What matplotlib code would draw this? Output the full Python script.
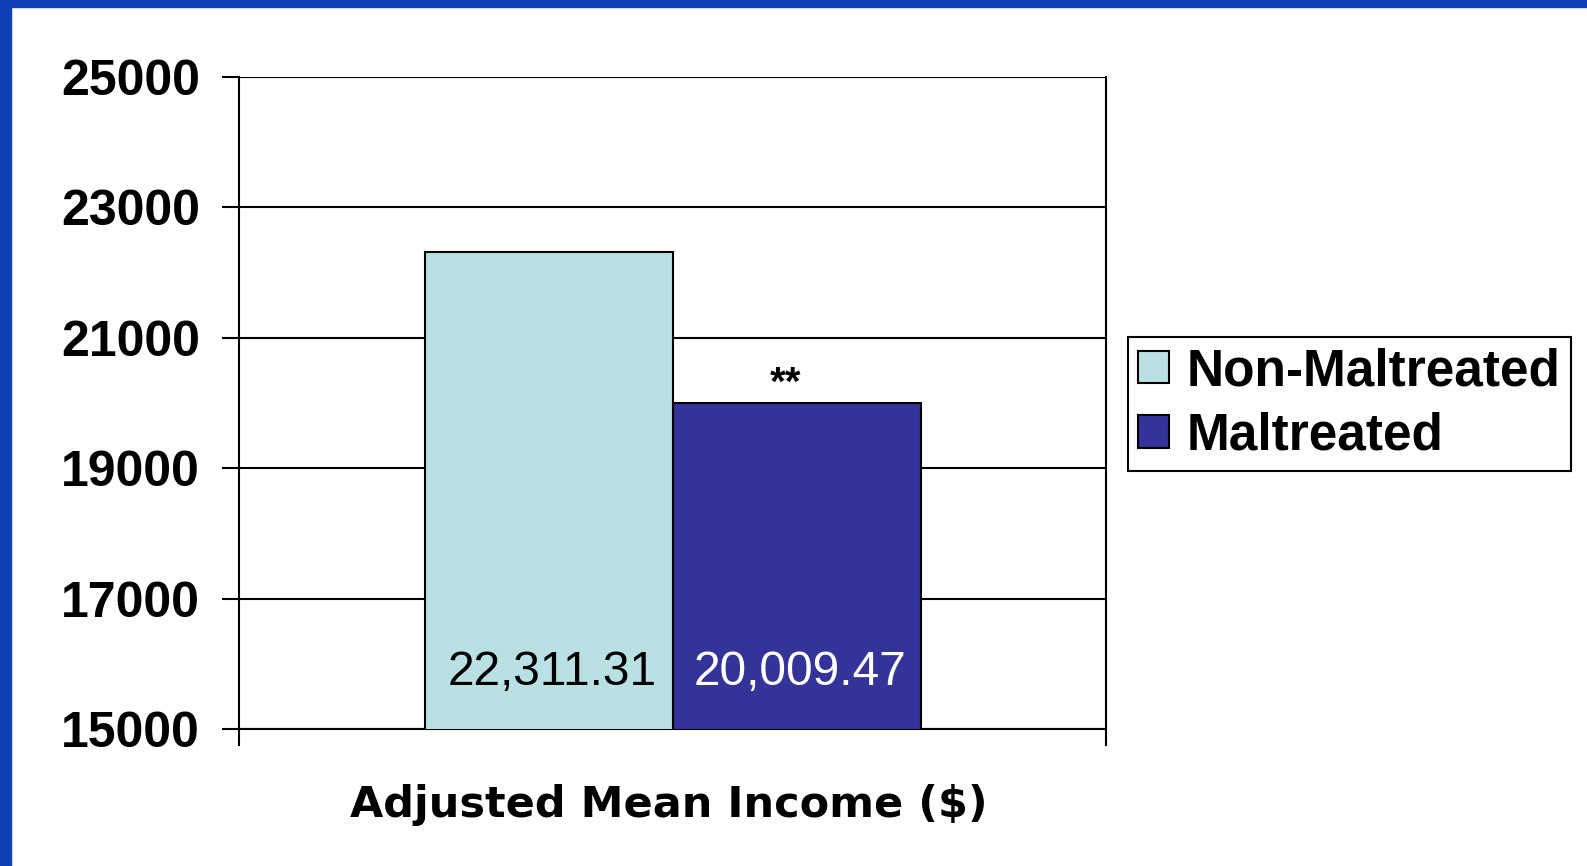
import matplotlib.pyplot as plt
from matplotlib.patches import Rectangle

# données
groupes = ["Non-Maltreated", "Maltreated"]
valeurs = [22311.31, 20009.47]
etiquettes = ["22,311.31", "20,009.47"]
couleurs = ["#B9E0E3", "#343399"]
couleurs_texte = ["black", "white"]
yticks = [15000, 17000, 19000, 21000, 23000, 25000]

fig = plt.figure(figsize=(15.87, 8.66), dpi=100)
ax = fig.add_axes([0.1506, 0.158, 0.546, 0.753])

largeur = 0.286
x0 = 0.2147
for i in range(len(groupes)):
    ax.bar(x0 + largeur * i, valeurs[i], width=largeur, bottom=0, align="edge",
           color=couleurs[i], edgecolor="black", linewidth=1.5, zorder=3,
           label=groupes[i])
    ax.text(x0 + largeur * (i + 0.5) + 0.004, 15870, etiquettes[i], ha="center", va="center",
            fontsize=34.5, color=couleurs_texte[i], family="Liberation Sans", zorder=4)

ax.annotate("**", (x0 + largeur * 1.5, valeurs[1]), xytext=(-8, 0), textcoords="offset points",
            ha="center", va="bottom", fontsize=29, fontweight="bold", family="Liberation Sans")

ax.set_xlim(0, 1)
ax.set_ylim(15000, 25000)
ax.set_yticks(yticks)
ax.set_yticklabels([str(t) for t in yticks], fontsize=36, fontweight="bold", family="Liberation Sans")
ax.set_xticks([0, 1])
ax.set_xticklabels(["", ""])
ax.tick_params(axis="y", length=12, width=1.5, pad=16)
ax.tick_params(axis="x", length=12, width=1.5)
ax.grid(axis="y", color="black", linewidth=1.5, zorder=0)
for s in ax.spines.values():
    s.set_linewidth(1.5)
    s.set_color("black")
ax.spines["top"].set_visible(False)

leg = ax.legend(loc="upper left", bbox_to_anchor=(0.7105, 0.611), bbox_transform=fig.transFigure,
                prop={"family": "Liberation Sans", "weight": "bold", "size": 37},
                fancybox=False, edgecolor="black", framealpha=1, handlelength=0.6,
                handleheight=0.6, handletextpad=0.35, borderpad=0.2, labelspacing=0.3,
                borderaxespad=0)
leg.get_frame().set_linewidth(1.5)

fig.text(0.4215, 0.070, "Adjusted Mean Income ($)", ha="center", va="center",
         fontsize=31, fontweight="bold", family="DejaVu Sans")

# cadre bleu
fig.patches.append(Rectangle((0, 0), 11 / 1587, 1, transform=fig.transFigure, color="#0D40B5"))
fig.patches.append(Rectangle((0, 1 - 7 / 866), 1, 7 / 866, transform=fig.transFigure, color="#0D40B5"))

fig.savefig("out.png", dpi=100)
